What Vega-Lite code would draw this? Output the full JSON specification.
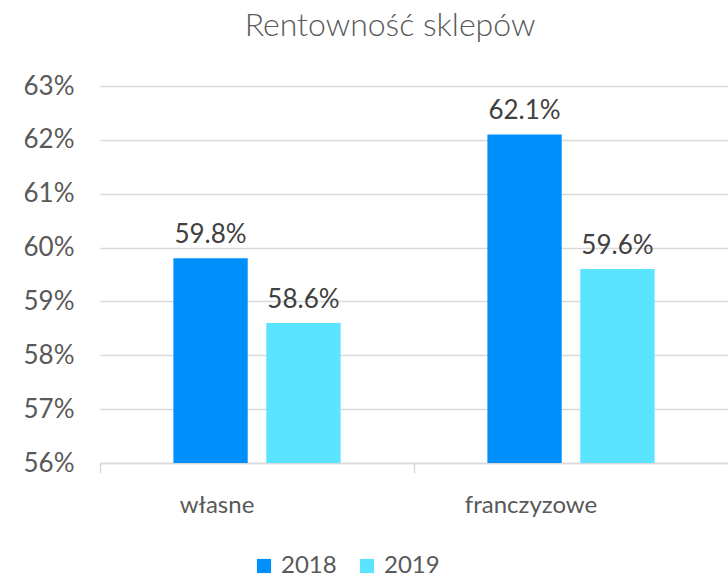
{
  "$schema": "https://vega.github.io/schema/vega-lite/v6.json",
  "width": 628,
  "height": 377,
  "autosize": "none",
  "padding": {"left": 100, "top": 86, "right": 0, "bottom": 115},
  "background": "white",
  "title": {
    "text": "Rentowność sklepów",
    "fontSize": 32,
    "font": "Lato",
    "fontWeight": 300,
    "color": "#595959",
    "offset": 30,
    "dx": -24
  },
  "data": {
    "values": [
      {"type": "własne", "year": "2018", "value": 0.598},
      {"type": "własne", "year": "2019", "value": 0.586},
      {"type": "franczyzowe", "year": "2018", "value": 0.621},
      {"type": "franczyzowe", "year": "2019", "value": 0.596}
    ]
  },
  "encoding": {
    "x": {
      "field": "type",
      "type": "nominal",
      "sort": ["własne", "franczyzowe"],
      "scale": {"paddingInner": 0, "paddingOuter": 0},
      "axis": {
        "title": null,
        "labelAngle": 0,
        "labelFont": "Lato",
        "labelFontSize": 24,
        "labelColor": "#595959",
        "labelPadding": 20,
        "labelOffset": -40,
        "bandPosition": 0,
        "tickSize": 10,
        "tickColor": "#d9d9d9",
        "tickWidth": 1.5,
        "domainColor": "#d9d9d9",
        "domainWidth": 1.5
      }
    },
    "xOffset": {
      "field": "year",
      "type": "nominal",
      "scale": {"paddingInner": 0.2, "paddingOuter": 0.79}
    }
  },
  "layer": [
    {
      "mark": {"type": "bar"},
      "encoding": {
        "y": {
          "field": "value",
          "type": "quantitative",
          "scale": {"domain": [0.56, 0.63], "zero": false, "nice": false},
          "axis": {
            "title": null,
            "format": ".0%",
            "values": [0.56, 0.57, 0.58, 0.59, 0.6, 0.61, 0.62, 0.63],
            "labelFont": "Lato",
            "labelFontSize": 26,
            "labelColor": "#595959",
            "labelPadding": 26,
            "ticks": false,
            "domain": false,
            "gridColor": "#d9d9d9",
            "gridWidth": 1.5
          }
        },
        "y2": {"datum": 0.56},
        "color": {
          "field": "year",
          "type": "nominal",
          "scale": {"domain": ["2018", "2019"], "range": ["#008FFB", "#5BE4FF"]},
          "legend": {
            "title": null,
            "orient": "none",
            "direction": "horizontal",
            "legendX": 152,
            "legendY": 468,
            "symbolType": "square",
            "symbolSize": 200,
            "symbolStrokeWidth": 0,
            "labelFont": "Lato",
            "labelFontSize": 24,
            "labelColor": "#595959",
            "columnPadding": 18,
            "labelOffset": 5
          }
        }
      }
    },
    {
      "mark": {"type": "text", "baseline": "bottom", "dy": -10, "font": "Lato", "fontSize": 26, "color": "#404040"},
      "encoding": {
        "y": {"field": "value", "type": "quantitative"},
        "text": {"field": "value", "type": "quantitative", "format": ".1%"}
      }
    }
  ],
  "config": {"view": {"stroke": null}}
}
